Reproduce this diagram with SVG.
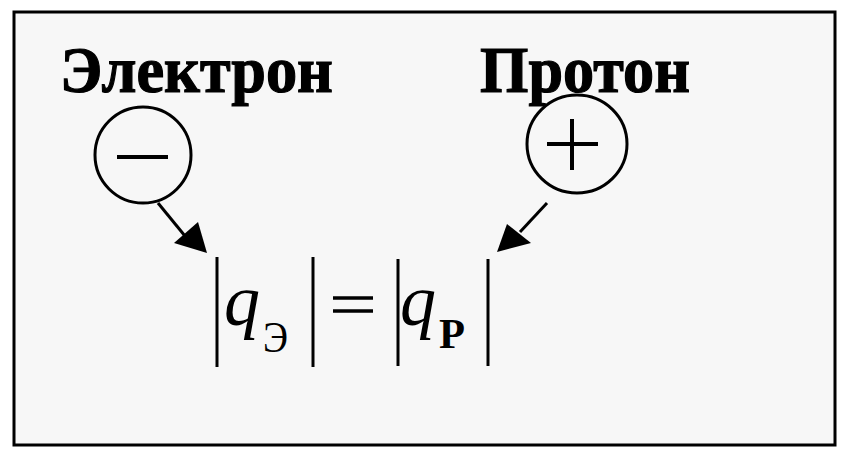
<svg xmlns="http://www.w3.org/2000/svg" width="842" height="456" viewBox="0 0 842 456">
<defs>
<style>
.lbl{font-family:"Liberation Serif","Times New Roman",serif;font-weight:bold;font-size:66px;fill:#000;stroke:#000;stroke-width:1.2}
.q{font-family:"Liberation Serif","Times New Roman",serif;font-style:italic;font-size:72px;fill:#000}
.sub{font-family:"Liberation Serif","Times New Roman",serif;font-size:44px;fill:#000}
.subb{font-family:"Liberation Serif","Times New Roman",serif;font-weight:bold;font-size:42px;fill:#000}
.ln{stroke:#000;stroke-width:3;fill:none}
.ring{stroke:#000;stroke-width:3;fill:none}
</style>
</defs>
<rect x="0" y="0" width="842" height="456" fill="#fff"/>
<rect x="14" y="12" width="821" height="433" fill="#f7f7f7" stroke="#000" stroke-width="3"/>
<g id="electron">
<text class="lbl" x="60" y="92" textLength="273" lengthAdjust="spacingAndGlyphs">Электрон</text>
<ellipse class="ring" cx="143" cy="155" rx="48" ry="48"/>
<line x1="117" y1="157" x2="168" y2="157" stroke="#000" stroke-width="4"/>
</g>
<g id="proton">
<text class="lbl" x="480" y="92" textLength="210" lengthAdjust="spacingAndGlyphs">Протон</text>
<ellipse class="ring" cx="577" cy="144" rx="50" ry="49"/>
<line x1="547" y1="144" x2="598" y2="144" stroke="#000" stroke-width="4"/>
<line x1="572" y1="119" x2="572" y2="170" stroke="#000" stroke-width="4"/>
</g>
<g id="formula">
<line class="ln" x1="217" y1="257" x2="217" y2="367"/>
<line class="ln" x1="313" y1="257" x2="313" y2="367"/>
<line class="ln" x1="398" y1="259" x2="398" y2="366"/>
<line class="ln" x1="488" y1="259" x2="488" y2="366"/>
<text class="q" x="224" y="325">q</text>
<text class="sub" x="263" y="352" textLength="25" lengthAdjust="spacingAndGlyphs">Э</text>
<line x1="333" y1="298" x2="373" y2="298" stroke="#000" stroke-width="3.5"/>
<line x1="333" y1="311" x2="373" y2="311" stroke="#000" stroke-width="3.5"/>
<text class="q" x="400" y="325">q</text>
<text class="subb" x="439" y="348" textLength="26" lengthAdjust="spacingAndGlyphs">Р</text>
</g>
<g id="connectors">
<path d="M158,203 L185,236" stroke="#000" stroke-width="3" fill="none"/>
<path d="M207,253 L174,243 L198,222 z" fill="#000"/>
<path d="M547,203 L520,232" stroke="#000" stroke-width="3" fill="none"/>
<path d="M497,252 L507,224 L531,243 z" fill="#000"/>
</g>
</svg>
